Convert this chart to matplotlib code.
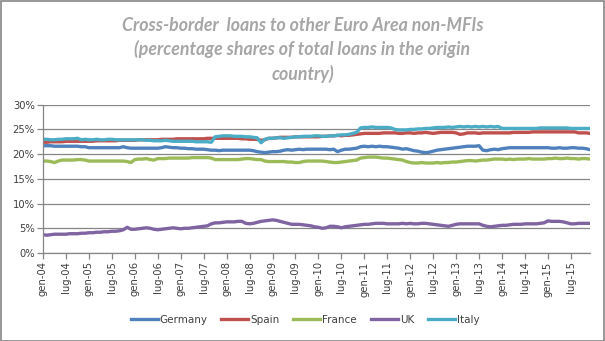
import matplotlib
matplotlib.use("Agg")
import matplotlib.pyplot as plt
from matplotlib.patches import Rectangle
import numpy as np

# Monthly shares (%), January 2004 - December 2015
germany = [
    21.7, 21.7, 21.7, 21.6, 21.6, 21.6, 21.6, 21.6, 21.6, 21.6, 21.5, 21.5,
    21.3, 21.3, 21.3, 21.3, 21.3, 21.3, 21.3, 21.3, 21.3, 21.5, 21.3, 21.2,
    21.2, 21.2, 21.2, 21.2, 21.2, 21.2, 21.2, 21.3, 21.5, 21.4, 21.3, 21.3,
    21.2, 21.2, 21.1, 21.1, 21.0, 21.0, 21.0, 20.9, 20.8, 20.8, 20.7, 20.8,
    20.8, 20.8, 20.8, 20.8, 20.8, 20.8, 20.8, 20.7, 20.5, 20.4, 20.3, 20.4,
    20.5, 20.5, 20.6, 20.8, 20.9, 20.8, 20.9, 21.0, 20.9, 21.0, 21.0, 21.0,
    21.0, 21.0, 21.0, 20.9, 21.0, 20.5, 20.8, 21.0, 21.0, 21.1, 21.2, 21.5,
    21.6, 21.5, 21.6, 21.5, 21.6, 21.5, 21.5, 21.4, 21.3, 21.2, 21.0, 21.1,
    20.9, 20.7, 20.6, 20.4, 20.3, 20.4, 20.6, 20.8, 20.9, 21.0, 21.1, 21.2,
    21.3, 21.4, 21.5, 21.6, 21.6, 21.6, 21.7, 20.8, 20.7, 20.9, 21.0, 20.9,
    21.1, 21.2, 21.3, 21.3, 21.3, 21.3, 21.3, 21.3, 21.3, 21.3, 21.3, 21.3,
    21.3, 21.2, 21.2, 21.3, 21.2, 21.2, 21.3, 21.3, 21.2, 21.2, 21.1, 20.9,
]
spain = [
    22.4, 22.4, 22.5, 22.5, 22.5, 22.5, 22.6, 22.6, 22.6, 22.6, 22.6, 22.6,
    22.6, 22.6, 22.7, 22.7, 22.7, 22.7, 22.7, 22.7, 22.8, 22.8, 22.8, 22.8,
    22.8, 22.9, 22.9, 22.9, 22.9, 22.9, 22.9, 23.0, 23.0, 23.0, 23.0, 23.1,
    23.1, 23.1, 23.1, 23.1, 23.1, 23.1, 23.1, 23.2, 23.2, 23.2, 23.2, 23.2,
    23.2, 23.2, 23.2, 23.2, 23.1, 23.1, 23.0, 23.0, 23.0, 22.8, 22.9, 23.2,
    23.2, 23.3, 23.4, 23.4, 23.4, 23.4, 23.5, 23.5, 23.5, 23.5, 23.5, 23.5,
    23.5, 23.6, 23.6, 23.7, 23.7, 23.8, 23.7, 23.8, 23.8, 23.9, 24.0, 24.1,
    24.2, 24.2, 24.2, 24.2, 24.2, 24.3, 24.3, 24.3, 24.3, 24.2, 24.2, 24.3,
    24.3, 24.2, 24.3, 24.3, 24.4, 24.3, 24.2, 24.3, 24.4, 24.4, 24.4, 24.4,
    24.3, 24.0, 24.1, 24.3, 24.3, 24.3, 24.2, 24.3, 24.3, 24.3, 24.3, 24.3,
    24.3, 24.3, 24.3, 24.4, 24.4, 24.4, 24.4, 24.4, 24.5, 24.5, 24.5, 24.5,
    24.5, 24.5, 24.5, 24.5, 24.5, 24.5, 24.5, 24.5, 24.3, 24.3, 24.3, 24.2,
]
france = [
    18.6, 18.6, 18.5, 18.3, 18.6, 18.8, 18.8, 18.8, 18.8, 18.9, 18.9, 18.8,
    18.6, 18.6, 18.6, 18.6, 18.6, 18.6, 18.6, 18.6, 18.6, 18.6, 18.5, 18.3,
    18.9, 19.0, 19.0, 19.1, 18.9, 18.8, 19.1, 19.1, 19.1, 19.2, 19.2, 19.2,
    19.2, 19.2, 19.2, 19.3, 19.3, 19.3, 19.3, 19.3, 19.2, 18.9, 18.9, 18.9,
    18.9, 18.9, 18.9, 18.9, 19.0, 19.1, 19.1, 19.0, 18.9, 18.9, 18.6, 18.5,
    18.5, 18.5, 18.5, 18.5, 18.4, 18.4, 18.3, 18.3, 18.5, 18.6, 18.6, 18.6,
    18.6, 18.6, 18.5, 18.4, 18.3, 18.3, 18.4, 18.5, 18.6, 18.7, 18.8, 19.2,
    19.3, 19.4, 19.4, 19.4, 19.3, 19.2, 19.2, 19.1, 19.0, 18.9, 18.8, 18.5,
    18.3, 18.2, 18.2, 18.3, 18.2, 18.2, 18.2, 18.3, 18.2, 18.3, 18.3, 18.4,
    18.4, 18.5, 18.6, 18.7, 18.7, 18.6, 18.7, 18.8, 18.8, 18.9, 19.0, 19.0,
    19.0, 18.9, 19.0, 18.9, 19.0, 19.0, 19.0, 19.1, 19.0, 19.0, 19.0, 19.0,
    19.1, 19.1, 19.2, 19.1, 19.1, 19.2, 19.1, 19.1, 19.0, 19.1, 19.1, 19.0,
]
uk = [
    3.7, 3.6, 3.7, 3.8, 3.8, 3.8, 3.8, 3.9, 3.9, 3.9, 4.0, 4.0,
    4.1, 4.1, 4.2, 4.2, 4.3, 4.3, 4.4, 4.4, 4.5, 4.7, 5.2, 4.8,
    4.8, 4.9, 5.0, 5.1, 5.0, 4.8, 4.7, 4.8, 4.9, 5.0, 5.1, 5.0,
    4.9, 5.0, 5.0, 5.1, 5.2, 5.3, 5.4, 5.5, 5.9, 6.1, 6.1, 6.2,
    6.3, 6.3, 6.3, 6.4, 6.4, 6.0, 5.9, 6.0, 6.2, 6.4, 6.5, 6.6,
    6.7, 6.6, 6.4, 6.2, 6.0, 5.8, 5.8, 5.8, 5.7, 5.6, 5.5, 5.3,
    5.2, 5.0, 5.1, 5.4, 5.4, 5.3, 5.1, 5.3, 5.4, 5.5, 5.6, 5.7,
    5.8, 5.8, 5.9, 6.0, 6.0, 6.0, 5.9, 5.9, 5.9, 5.9, 6.0, 5.9,
    6.0, 5.9, 5.9, 6.0, 6.0, 5.9, 5.8, 5.7, 5.6, 5.5, 5.4, 5.6,
    5.8, 5.9, 5.9, 5.9, 5.9, 5.9, 5.9, 5.6, 5.4, 5.3, 5.4, 5.5,
    5.6, 5.6, 5.7, 5.8, 5.8, 5.8, 5.9, 5.9, 5.9, 5.9, 6.0, 6.1,
    6.5, 6.4, 6.4, 6.4, 6.3, 6.1, 5.9, 5.9, 6.0, 6.0, 6.0, 6.0,
]
italy = [
    23.0, 23.0, 22.9, 22.9, 23.0, 23.0, 23.1, 23.1, 23.1, 23.2, 22.9, 23.0,
    22.9, 22.9, 23.0, 22.9, 22.9, 23.0, 23.0, 22.9, 22.9, 22.9, 22.9, 22.9,
    22.9, 22.9, 22.9, 22.8, 22.8, 22.7, 22.7, 22.7, 22.8, 22.7, 22.6, 22.6,
    22.6, 22.6, 22.6, 22.6, 22.5, 22.5, 22.5, 22.5, 22.4, 23.5, 23.6, 23.7,
    23.7, 23.7, 23.6, 23.6, 23.6, 23.5, 23.5, 23.4, 23.3, 22.3, 23.0, 23.2,
    23.2, 23.3, 23.3, 23.2, 23.3, 23.4, 23.5, 23.5, 23.6, 23.6, 23.6, 23.7,
    23.7, 23.6, 23.6, 23.7, 23.7, 23.8, 23.9, 23.9, 24.0, 24.2, 24.4, 25.3,
    25.4, 25.4, 25.5, 25.4, 25.4, 25.4, 25.4, 25.3, 25.0, 24.9, 24.9, 24.9,
    25.0, 25.0, 25.1, 25.1, 25.2, 25.2, 25.3, 25.4, 25.4, 25.4, 25.5, 25.4,
    25.5, 25.6, 25.5, 25.6, 25.5, 25.6, 25.5, 25.6, 25.5, 25.6, 25.5, 25.6,
    25.2, 25.2, 25.2, 25.2, 25.2, 25.2, 25.2, 25.2, 25.2, 25.2, 25.3, 25.3,
    25.3, 25.3, 25.3, 25.3, 25.3, 25.3, 25.2, 25.2, 25.2, 25.2, 25.2, 25.2,
]

series_names = ["Germany", "Spain", "France", "UK", "Italy"]
series_colors = ["#4F81BD", "#C0504D", "#9BBB59", "#8064A2", "#4BACC6"]

month_abbr = ["gen", "feb", "mar", "apr", "mag", "giu",
              "lug", "ago", "set", "ott", "nov", "dic"]
years = list(range(2004, 2016))
month_labels = [f"{month_abbr[m]}-{y % 100:02d}" for y in years for m in range(12)]

title_text = ("Cross-border  loans to other Euro Area non-MFIs\n"
              "(percentage shares of total loans in the origin\n"
              "country)")

grey = "#868686"
text_col = "#404040"

fig = plt.figure(figsize=(6.05, 3.41), dpi=100)
ax = fig.add_axes([43 / 605, 1 - 253 / 341, (590 - 43) / 605, (253 - 104.7) / 341])

x = np.arange(len(month_labels))
for name, vals, col in zip(series_names, [germany, spain, france, uk, italy], series_colors):
    ax.plot(x, vals, color=col, lw=2.4, label=name, solid_joinstyle="round")

ax.set_xlim(0, len(month_labels) - 1)
ax.set_ylim(0, 30)
ax.set_yticks(np.arange(0, 31, 5))
ax.set_yticklabels([f"{v}%" for v in range(0, 31, 5)])
tick_idx = x[::6]
ax.set_xticks(tick_idx)
ax.set_xticklabels([month_labels[i] for i in tick_idx], rotation=90)

ax.grid(axis="y", color=grey, lw=0.9)
ax.set_axisbelow(True)
for s in ["top", "right"]:
    ax.spines[s].set_visible(False)
for s in ["left", "bottom"]:
    ax.spines[s].set_color(grey)
    ax.spines[s].set_linewidth(0.9)
ax.tick_params(axis="both", direction="out", length=4, width=0.9, color=grey,
               labelsize=7.2, labelcolor=text_col, pad=2)

fig.text(0.5, 1 - 50 / 341, title_text, ha="center", va="center",
         fontsize=12.8, fontweight="bold", fontstyle="italic", family="Lato",
         color="#A6A6A6", linespacing=1.45)

leg = fig.legend(loc="center", bbox_to_anchor=(305 / 605, 1 - 320 / 341), ncol=5,
                 frameon=False, fontsize=7.5, handlelength=2.6, handletextpad=0.2,
                 columnspacing=1.3, labelcolor=text_col)
for h in leg.get_lines():
    h.set_linewidth(2.4)

fig.patches.append(Rectangle((0.5 / 605, 0.5 / 341), 1 - 1.5 / 605, 1 - 1.5 / 341,
                             transform=fig.transFigure, fill=False,
                             edgecolor=grey, lw=1.2))

fig.savefig("out.png", dpi=100, facecolor="white")
